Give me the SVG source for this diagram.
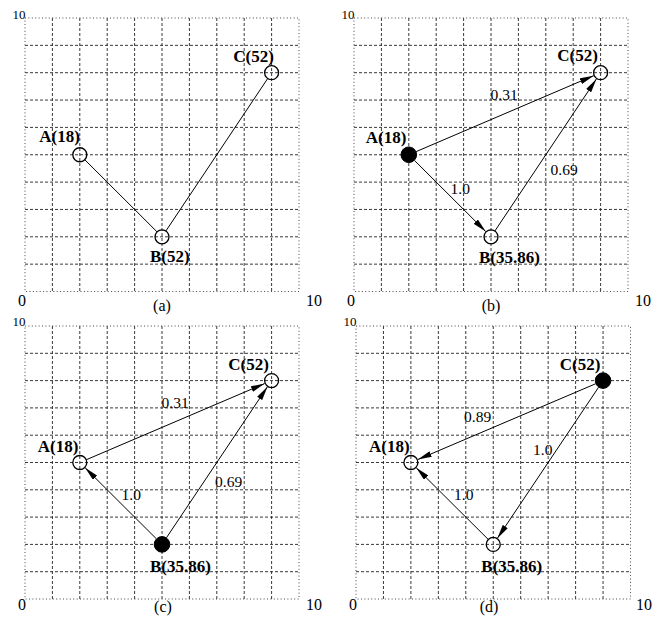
<svg xmlns="http://www.w3.org/2000/svg" width="659" height="620" viewBox="0 0 659 620">
<style>
.dash{fill:none;stroke:#222;stroke-width:0.9;stroke-dasharray:3 2}
.dot{fill:none;stroke:#333;stroke-width:0.9;stroke-dasharray:1 2.4}
.edge{fill:none;stroke:#000;stroke-width:1}
.arr{marker-end:url(#ah)}
.open{fill:none;stroke:#000;stroke-width:1.3}
.full{fill:#000;stroke:#000;stroke-width:1}
.nl{font-family:"Liberation Serif",serif;font-weight:bold;font-size:17px;fill:#000}
.el{font-family:"Liberation Serif",serif;font-size:15.5px;fill:#000}
.ax{font-family:"Liberation Serif",serif;font-size:16px;fill:#000}
.axt{font-family:"Liberation Serif",serif;font-size:13px;fill:#000}
.cap{font-family:"Liberation Serif",serif;font-size:16px;fill:#000;text-anchor:middle}
</style>
<defs>
<marker id="ah" markerUnits="userSpaceOnUse" markerWidth="14" markerHeight="6" refX="14" refY="3" orient="auto">
<path d="M0,0 L14,3 L0,6 Z" fill="#000"/>
</marker>
</defs>

<g id="grids">
<path class="dash" d="M52.4,18V291.5M79.8,18V291.5M107.2,18V291.5M134.6,18V291.5M162,18V291.5M189.4,18V291.5M216.8,18V291.5M244.2,18V291.5M271.6,18V291.5M25,45.35H299M25,72.7H299M25,100.05H299M25,127.4H299M25,154.75H299M25,182.1H299M25,209.45H299M25,236.8H299M25,264.15H299"/>
<rect class="dot" x="25" y="18" width="274" height="273.5"/>
<path class="dash" d="M381.4,18V291.5M408.8,18V291.5M436.2,18V291.5M463.6,18V291.5M491,18V291.5M518.4,18V291.5M545.8,18V291.5M573.2,18V291.5M600.6,18V291.5M354,45.35H628M354,72.7H628M354,100.05H628M354,127.4H628M354,154.75H628M354,182.1H628M354,209.45H628M354,236.8H628M354,264.15H628"/>
<rect class="dot" x="354" y="18" width="274" height="273.5"/>
<path class="dash" d="M52.4,326V599M79.8,326V599M107.2,326V599M134.6,326V599M162,326V599M189.4,326V599M216.8,326V599M244.2,326V599M271.6,326V599M25,353.3H299M25,380.6H299M25,407.9H299M25,435.2H299M25,462.5H299M25,489.8H299M25,517.1H299M25,544.4H299M25,571.7H299"/>
<rect class="dot" x="25" y="326" width="274" height="273"/>
<path class="dash" d="M383.45,326V599M410.9,326V599M438.35,326V599M465.8,326V599M493.25,326V599M520.7,326V599M548.15,326V599M575.6,326V599M603.05,326V599M356,353.3H630.5M356,380.6H630.5M356,407.9H630.5M356,435.2H630.5M356,462.5H630.5M356,489.8H630.5M356,517.1H630.5M356,544.4H630.5M356,571.7H630.5"/>
<rect class="dot" x="356" y="326" width="274.5" height="273"/>
</g>

<g id="axes">
<text class="axt" x="12.5" y="18.5">10</text>
<text class="ax" x="18" y="305.5">0</text>
<text class="ax" x="306" y="305.5">10</text>
<text class="cap" x="162" y="311">(a)</text>

<text class="axt" x="341.5" y="18.5">10</text>
<text class="ax" x="347" y="305.5">0</text>
<text class="ax" x="635" y="305.5">10</text>
<text class="cap" x="491" y="311">(b)</text>

<text class="axt" x="12.5" y="325.5">10</text>
<text class="ax" x="18" y="610">0</text>
<text class="ax" x="306" y="610">10</text>
<text class="cap" x="163" y="612">(c)</text>

<text class="axt" x="343.5" y="325.5">10</text>
<text class="ax" x="349" y="610">0</text>
<text class="ax" x="636" y="610">10</text>
<text class="cap" x="489" y="612">(d)</text>
</g>

<g id="connectors">
<line class="edge" x1="84.76" y1="159.7" x2="157.04" y2="231.85"/>
<line class="edge" x1="165.9" y1="230.98" x2="267.7" y2="78.52"/>
<line class="edge arr" x1="416.16" y1="151.6" x2="593.7" y2="75.65"/>
<line class="edge arr" x1="414.46" y1="160.4" x2="485.69" y2="231.5"/>
<line class="edge arr" x1="494.9" y1="230.98" x2="596.43" y2="78.94"/>
<line class="edge arr" x1="86.24" y1="459.75" x2="264.7" y2="383.55"/>
<line class="edge arr" x1="156.33" y1="538.75" x2="85.11" y2="467.79"/>
<line class="edge arr" x1="166.45" y1="537.75" x2="267.43" y2="386.83"/>
<line class="edge arr" x1="595.69" y1="383.74" x2="417.8" y2="459.56"/>
<line class="edge arr" x1="598.6" y1="387.24" x2="497.43" y2="538.17"/>
<line class="edge arr" x1="488.29" y1="539.46" x2="416.22" y2="467.79"/>
</g>

<g id="edge-labels">
<text class="el" x="490.5" y="100">0.31</text>
<text class="el" x="450.5" y="194">1.0</text>
<text class="el" x="550.5" y="175">0.69</text>

<text class="el" x="161.5" y="408">0.31</text>
<text class="el" x="121.5" y="500">1.0</text>
<text class="el" x="215" y="487">0.69</text>

<text class="el" x="464" y="421.7">0.89</text>
<text class="el" x="533" y="455">1.0</text>
<text class="el" x="454" y="500">1.0</text>
</g>

<g id="a-A"><circle class="open" cx="79.8" cy="154.75" r="7"/><text class="nl" x="39.3" y="141.7">A(18)</text></g>
<g id="a-B"><circle class="open" cx="162" cy="236.8" r="7"/><text class="nl" x="150" y="261.7">B(52)</text></g>
<g id="a-C"><circle class="open" cx="271.6" cy="72.7" r="7"/><text class="nl" x="233.3" y="61.7">C(52)</text></g>

<g id="b-A"><circle class="full" cx="408.8" cy="154.75" r="7.8"/><text class="nl" x="365.7" y="143">A(18)</text></g>
<g id="b-B"><circle class="open" cx="491" cy="236.8" r="7"/><text class="nl" x="479" y="263.3">B(35.86)</text></g>
<g id="b-C"><circle class="open" cx="600.6" cy="72.7" r="7"/><text class="nl" x="557.3" y="61">C(52)</text></g>

<g id="c-A"><circle class="open" cx="79.8" cy="462.5" r="7"/><text class="nl" x="37.7" y="451.7">A(18)</text></g>
<g id="c-B"><circle class="full" cx="162" cy="544.4" r="7.8"/><text class="nl" x="150" y="571.7">B(35.86)</text></g>
<g id="c-C"><circle class="open" cx="271.6" cy="380.6" r="7"/><text class="nl" x="228.3" y="370">C(52)</text></g>

<g id="d-A"><circle class="open" cx="410.9" cy="462.5" r="7"/><text class="nl" x="369" y="451.7">A(18)</text></g>
<g id="d-B"><circle class="open" cx="493.25" cy="544.4" r="7"/><text class="nl" x="481.3" y="571.7">B(35.86)</text></g>
<g id="d-C"><circle class="full" cx="603.05" cy="380.6" r="7.8"/><text class="nl" x="559.7" y="370">C(52)</text></g>
</svg>
